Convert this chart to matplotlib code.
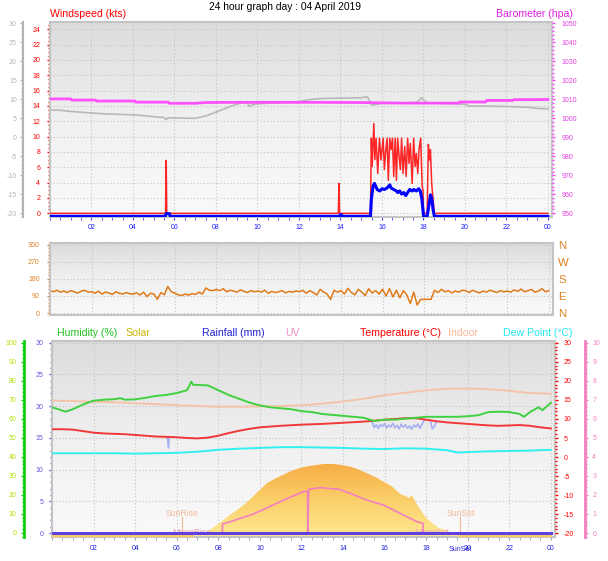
import numpy as np
import matplotlib.pyplot as plt
from matplotlib.colors import LinearSegmentedColormap
from matplotlib.patches import Polygon
from matplotlib.ticker import MultipleLocator, FixedLocator
from matplotlib.transforms import offset_copy, blended_transform_factory

plt.rcParams['font.family'] = ['Liberation Sans', 'DejaVu Sans']
plt.rcParams['axes.unicode_minus'] = False

W, H = 608, 561
title = '24 hour graph day : 04 April 2019'

hour_ticks = list(range(2, 25, 2))
hour_labels = ['%02d' % (h % 24) for h in hour_ticks]

# ---- top panel: wind (kts), barometer (hpa), grey temperature-like trace ----
gust_t = [0, 5.57, 5.6, 5.63, 13.90, 13.93, 13.96, 15.45, 15.49, 15.53, 15.61, 15.66,
          15.72, 15.80, 15.88, 15.96, 16.06, 16.12, 16.18, 16.25, 16.31, 16.38, 16.44,
          16.51, 16.57, 16.64, 16.70, 16.76, 16.83, 16.89, 16.95, 17.02, 17.10, 17.17,
          17.24, 17.31, 17.37, 17.46, 17.53, 17.60, 17.66, 17.73, 17.79, 17.87, 17.94,
          17.98, 18.01, 18.18, 18.24, 18.29, 18.34, 18.40, 18.47, 18.53, 24]
gust_v = [0, 0, 6.9, 0, 0, 3.9, 0, 0, 9.8, 6.1, 11.7, 7.0,
          9.8, 5.2, 9.8, 6.95, 9.8, 5.7, 8.0, 9.8, 4.3, 9.8, 8.3,
          9.8, 4.8, 9.8, 4.3, 9.8, 7.4, 5.7, 9.8, 5.2, 8.7, 4.8,
          9.8, 6.5, 9.1, 3.9, 9.8, 6.1, 7.8, 5.2, 8.3, 9.8, 3.5,
          3.05, 0, 0, 9.0, 6.95, 8.3, 3.9, 1.74, 0, 0]

wavg_t = [0, 5.55, 5.6, 5.75, 5.8, 13.95, 14.0, 14.05, 14.1, 15.45, 15.49, 15.57,
          15.64, 15.77, 15.90, 16.01, 16.12, 16.25, 16.38, 16.44, 16.57, 16.70, 16.76,
          16.86, 16.95, 17.05, 17.15, 17.24, 17.34, 17.46, 17.53, 17.66, 17.77, 17.85,
          17.92, 17.98, 18.01, 18.18, 18.26, 18.34, 18.40, 18.47, 18.53, 24]
wavg_v = [0, 0, 0.35, 0.35, 0, 0, 0.2, 0.2, 0, 0, 2.2, 3.9,
          4.3, 3.5, 3.3, 3.6, 3.5, 3.7, 4.1, 3.7, 3.5, 3.3, 3.1,
          3.3, 2.9, 3.1, 2.7, 3.1, 3.5, 3.3, 3.5, 3.3, 3.6, 3.3,
          2.4, 0.8, 0, 0, 1.3, 2.8, 2.4, 0.8, 0, 0]

baro_t = [0, 1.0, 1.05, 2.2, 2.25, 4.1, 4.15, 5.7, 5.75, 7.0, 7.5, 9, 11, 13, 15,
          17, 19.7, 19.75, 21.0, 21.05, 22.3, 22.35, 24]
baro_v = [1010.2, 1010.2, 1009.6, 1009.6, 1009.1, 1009.1, 1008.5, 1008.5, 1007.9,
          1007.9, 1008.3, 1008.4, 1008.4, 1008.4, 1008.3, 1008.0, 1008.0, 1008.6,
          1008.6, 1009.4, 1009.4, 1009.8, 1009.9]

grey_t = [0, 0.5, 1, 1.5, 2, 2.5, 3, 3.5, 4, 4.5, 5, 5.5, 5.6, 5.7, 6, 6.5, 7, 7.5,
          8, 8.5, 9, 9.5, 9.6, 9.8, 10, 11, 12, 12.5, 13, 14, 15, 15.3, 15.5, 16, 17,
          17.7, 17.9, 18.2, 18.6, 19, 20, 20.2, 21, 22, 23, 23.5, 24]
grey_v = [7.2, 7.1, 6.8, 6.6, 6.4, 6.2, 6.1, 6.0, 5.9, 5.7, 5.4, 5.2, 4.7, 5.1, 5.1,
          5.0, 5.0, 5.6, 6.6, 7.7, 8.7, 9.4, 8.1, 8.6, 8.8, 9.1, 9.4, 9.9, 10.2, 10.3,
          10.4, 10.7, 8.5, 8.9, 9.0, 9.2, 10.4, 9.0, 9.0, 8.9, 8.7, 8.2, 8.2, 8.1, 7.9,
          7.6, 7.5]

# ---- middle panel: wind direction (deg), one value per 10 minutes ----
dir_v = [118, 112, 120, 110, 116, 108, 118, 112, 105, 115, 120, 110,
         112, 104, 115, 100, 110, 106, 98, 112, 104, 100, 108, 102,
         100, 106, 95, 110, 86, 104, 100, 72, 108, 96, 140, 112,
         105, 96, 92, 100, 94, 102, 98, 110, 100, 132, 120, 118,
         124, 118, 128, 112, 120, 116, 110, 122, 114, 108, 118, 112,
         116, 110, 120, 104, 114, 108, 112, 118, 106, 114, 110, 116,
         112, 120, 104, 118, 108, 95, 125, 110, 100, 72, 120, 110,
         118, 100, 130, 108, 96, 125, 110, 92, 128, 105, 118, 100,
         125, 90, 128, 85, 120, 80, 118, 95, 50, 110, 42, 72,
         72, 72, 72, 120, 108, 125, 112, 118, 106, 116, 110, 120,
         118, 108, 120, 112, 106, 116, 110, 120, 114, 108, 118, 112,
         116, 110, 122, 114, 126, 112, 118, 124, 110, 116, 128, 112,
         118]
dir_t = np.arange(len(dir_v)) / 6.0

# ---- bottom panel ----
hum_t = [0, 0.3, 0.65, 1.0, 1.5, 2.0, 2.5, 3.0, 3.3, 3.5, 4.0, 4.5, 5.0, 5.5, 6.0, 6.5,
         6.7, 6.8, 7.0, 7.5, 8.0, 8.5, 9, 9.5, 10, 10.5, 11, 11.5, 12, 12.5, 13, 13.5,
         14, 14.5, 15, 15.5, 16, 16.5, 17, 17.5, 18, 18.5, 19, 19.5, 20, 20.5, 21,
         21.5, 22, 22.5, 22.7, 23.0, 23.4, 23.6, 24]
hum_v = [66, 65, 63.7, 65, 67.5, 69.5, 70, 70.3, 70.8, 70, 70.2, 71, 72, 72.5, 73.5, 75,
         79.5, 77.8, 77.8, 77.5, 75, 72.5, 70.5, 68.5, 67, 66, 65.5, 65, 64, 63.5, 62.5,
         62, 61.5, 61, 60.5, 58.8, 59.5, 59.5, 60, 60.5, 61, 61, 61, 61, 61.3, 61.8,
         63.5, 63.7, 63.5, 62.5, 61, 63.5, 66, 64.5, 68.4]

temp_t = [0, 0.5, 1, 1.5, 2, 2.5, 3, 3.5, 4, 4.5, 5, 5.5, 6, 6.5, 7, 7.5, 8, 8.5, 9,
          9.5, 10, 11, 12, 13, 14, 15, 16, 17, 17.5, 18, 18.5, 19, 20, 21, 21.5, 22,
          22.5, 23, 23.5, 24]
temp_v = [7.3, 7.3, 7.2, 6.8, 6.4, 6.2, 6.1, 6.0, 5.8, 5.6, 5.4, 5.3, 5.2, 5.0, 4.9,
          5.1, 5.6, 6.3, 6.9, 7.4, 7.8, 8.2, 8.5, 8.7, 9.0, 9.3, 9.8, 10.2, 10.2, 9.8,
          9.4, 9.1, 8.7, 8.3, 8.2, 8.3, 8.4, 8.2, 7.8, 7.5]

indoor_t = list(range(25))
indoor_v = [14.8, 14.7, 14.5, 14.4, 14.1, 13.9, 13.6, 13.4, 13.2, 13.2, 13.3, 13.4,
            13.6, 14.0, 14.6, 15.3, 16.2, 16.9, 17.5, 17.9, 18.0, 17.8, 17.4, 16.8, 16.6]

dew_t = list(range(20)) + [19.5, 20, 21, 22, 23, 24]
dew_v = [1.0, 1.0, 1.0, 1.0, 0.9, 1.0, 1.1, 1.4, 1.9, 2.2, 2.4, 2.6, 2.6, 2.5, 2.4,
         2.2, 2.1, 2.3, 2.2, 1.8, 1.2, 1.3, 1.5, 1.6, 1.7, 1.9]

# wind chill only where it parts from the air temperature (nan = hidden behind it)
chill_t = [5.55, 5.6, 5.65, np.nan, 15.4, 15.5, 15.6, 15.7, 15.8, 15.9, 16.0, 16.1,
           16.2, 16.3, 16.4, 16.5, 16.6, 16.7, 16.8, 16.9, 17.0, 17.1, 17.2, 17.3,
           17.4, 17.5, 17.6, 17.7, 17.8, 17.9, 18.0, 18.2, 18.3, 18.4, 18.5]
chill_v = [5.2, 2.4, 5.2, np.nan, 9.2, 7.8, 8.5, 7.5, 8.6, 8.0, 8.8, 7.6,
           8.4, 7.9, 8.9, 7.7, 8.3, 7.4, 8.6, 7.8, 8.5, 7.6, 8.2, 7.3,
           8.4, 7.9, 8.7, 7.5, 8.6, 9.6, 9.8, 9.6, 7.4, 8.0, 9.4]

solar_t = [0, 6.8, 7.2, 7.5, 7.95, 8.3, 8.7, 9.1, 9.5, 9.9, 10.35, 10.7, 11.1, 11.5,
           11.95, 12.35, 12.75, 13.1, 13.5, 13.9, 14.35, 14.75, 15.15, 15.55, 15.95,
           16.35, 16.75, 17.0, 17.2, 17.3, 17.55, 17.8, 18.0, 18.3, 18.6, 18.9, 19.15,
           19.4, 19.6, 24]
solar_v = [0, 0, 10, 26, 58, 89, 121, 153, 189, 232, 279, 300, 321, 342,
           358, 368, 374, 379, 379, 374, 365, 350, 330, 311, 286,
           261, 221, 210, 200, 216, 168, 126, 95, 68, 42, 32, 21,
           10, 0, 0]

uv_t = [0, 8.2, 8.2, 8.6, 9.0, 9.55, 10.0, 10.6, 11.15, 11.6, 12.1, 12.3, 12.3, 12.35,
        12.9, 13.8, 14.35, 15.15, 15.95, 16.75, 17.55, 17.85, 17.85, 24]
uv_v = [0, 0, 0.47, 0.6, 0.75, 0.94, 1.15, 1.45, 1.73, 1.95, 2.17, 2.2, 0, 2.3,
        2.38, 2.3, 2.08, 1.73, 1.47, 1.03, 0.6, 0.5, 0, 0]

rain_t = [0, 24]
rain_v = [0, 0]

sunrise_h, sunset_h = 6.25, 19.65
moonrise_h, moonset_h = 6.75, 18.27

XMAX = 24.2


def px_axes(x0, y0, x1, y1):
    return fig.add_axes([x0 / W, 1 - y1 / H, (x1 - x0) / W, (y1 - y0) / H])


def backdrop(ax):
    grad = np.linspace(0, 1, 256).reshape(-1, 1)
    cmap = LinearSegmentedColormap.from_list('bg', ['#fafafa', '#f0f0f0', '#dcdcdc'])
    ax.imshow(grad, extent=[0, 1, 0, 1], transform=ax.transAxes, origin='lower',
              aspect='auto', cmap=cmap, zorder=0)
    for s in ax.spines.values():
        s.set_color('#c4c4c4')
        s.set_linewidth(1.5)
    ax.grid(True, which='major', color='#c4c4c4', linestyle=(0, (1, 2)), linewidth=0.8)
    ax.set_axisbelow(True)


def y_ticks(ax, side, color, major, minor, pad, labelcolor=None):
    ax.yaxis.set_major_locator(major if not isinstance(major, (int, float)) else MultipleLocator(major))
    ax.yaxis.set_minor_locator(MultipleLocator(minor))
    ax.tick_params(axis='y', which='both', left=side == 'left', right=side == 'right',
                   labelleft=side == 'left', labelright=side == 'right', colors=color,
                   labelcolor=labelcolor or color, labelsize=5, direction='out', pad=pad)
    ax.tick_params(axis='y', which='major', length=2.4, width=1)
    ax.tick_params(axis='y', which='minor', length=1.6, width=1)


def x_ticks(ax, color, labelcolor, labels=True):
    ax.set_xlim(0, XMAX)
    ax.set_xticks(hour_ticks, hour_labels if labels else [])
    ax.xaxis.set_minor_locator(MultipleLocator(0.5))
    ax.tick_params(axis='x', which='both', colors=color, labelcolor=labelcolor,
                   labelsize=5, direction='out', pad=3.2, length=2.2 if labels else 0)


def hide_spines(ax, keep=None):
    for k, s in ax.spines.items():
        s.set_visible(k == keep)


fig = plt.figure(figsize=(W / 100, H / 100), dpi=100)
fig.patch.set_facecolor('white')

# ================= top panel =================
ax_w = px_axes(50, 22, 552, 217)
backdrop(ax_w)
x_ticks(ax_w, '#4040ff', '#2020ff')
ax_w.set_ylim(-0.48, 24.95)
y_ticks(ax_w, 'left', 'red', 2, 0.5, 4.7)

ax_g = ax_w.twinx()
hide_spines(ax_g, 'left')
ax_g.spines['left'].set_position(('axes', -27 / 502))
ax_g.spines['left'].set_color('#b4b4b4')
ax_g.spines['left'].set_linewidth(1.5)
ax_g.yaxis.tick_left()
ax_g.set_ylim(-21, 30.35)
y_ticks(ax_g, 'left', '#b4b4b4', 5, 1, 2.0)
ax_g.plot(grey_t, grey_v, color='#b8b8b8', lw=1.2)

ax_p = ax_w.twinx()
hide_spines(ax_p)
ax_p.set_ylim(948.05, 1050.7)
y_ticks(ax_p, 'right', '#ff40ff', 10, 2, 4.3, labelcolor='#e040e0')
ax_p.plot(baro_t, baro_v, color='#ff50ff', lw=2)

ax_w2 = ax_w.twinx()
hide_spines(ax_w2)
ax_w2.set_ylim(ax_w.get_ylim())
ax_w2.set_yticks([])
ax_w2.plot(gust_t, gust_v, color='#ff1010', lw=1.1, alpha=0.9)
ax_w2.plot(wavg_t, wavg_v, color='#0000ff', lw=2.2,
           transform=offset_copy(ax_w2.transData, fig=fig, x=0, y=-3, units='dots'))

fig.text(50 / W, 1 - 14 / H, 'Windspeed (kts)', color='red', fontsize=7.6, va='center', ha='left')
fig.text(573 / W, 1 - 14 / H, 'Barometer (hpa)', color='#e020e0', fontsize=7.6, va='center', ha='right')
fig.text(285 / W, 1 - 6.5 / H, title, color='black', fontsize=7.4, va='center', ha='center')

# ================= middle panel =================
ax_d = px_axes(50, 243, 553, 315)
backdrop(ax_d)
x_ticks(ax_d, '#c4c4c4', '#2020ff', labels=False)
ax_d.set_ylim(-10.5, 369)
y_ticks(ax_d, 'left', '#e08020', FixedLocator([0, 90, 180, 270, 360]), 18, 5.0)
ax_d.plot(dir_t, dir_v, color='#e07a18', lw=1.1)

ax_d2 = ax_d.twinx()
hide_spines(ax_d2)
ax_d2.set_ylim(ax_d.get_ylim())
ax_d2.set_yticks([0, 90, 180, 270, 360], ['N', 'E', 'S', 'W', 'N'])
ax_d2.tick_params(axis='y', length=0, pad=3.8, labelsize=8.2, colors='#e08020')

# ================= bottom panel =================
ax_b = px_axes(52, 341, 555, 537)
backdrop(ax_b)
x_ticks(ax_b, '#a0a0b0', '#2020e0')
ax_b.set_ylim(-0.63, 30.27)
y_ticks(ax_b, 'left', '#6a50e0', 5, 1, 3.6)
btrans = blended_transform_factory(ax_b.transData, ax_b.transAxes)
ax_b.text(sunset_h, -0.045, 'SunSet', transform=btrans, ha='center', va='top',
          color='#2020e0', fontsize=5)

# solar (no visible scale)
ax_s = ax_b.twinx()
hide_spines(ax_s)
ax_s.set_yticks([])
ax_s.set_ylim(-5.3, 1026)
strans = blended_transform_factory(ax_s.transData, ax_s.transAxes)
ax_s.text(moonrise_h, 0.022, 'MoonRise', transform=strans, ha='center', va='center',
          color='#e8a0a8', fontsize=6.2)
ax_s.text(moonset_h, 0.022, 'MoonSet', transform=strans, ha='center', va='center',
          color='#e8a8b0', fontsize=6.2)
verts = list(zip(solar_t, solar_v)) + [(solar_t[-1], 0), (solar_t[0], 0)]
patch = Polygon(verts, closed=True, fc='none', ec='none')
ax_s.add_patch(patch)
sol_cmap = LinearSegmentedColormap.from_list('sol', ['#fde890', '#fbcf6a', '#f6ac44'])
grad = np.linspace(0, 1, 256).reshape(-1, 1)
im = ax_s.imshow(grad, extent=[0, XMAX, 0, max(solar_v)], origin='lower', aspect='auto',
                 cmap=sol_cmap, zorder=2)
im.set_clip_path(patch)
sv = np.array(solar_v, dtype=float)
ax_s.plot(solar_t, np.where(sv == 0, sv, np.nan), color='#f8d060', lw=1.5, zorder=3)
ax_s.set_xlim(0, XMAX)
ax_s.set_ylim(-5.3, 1026)
for h, lab in [(sunrise_h, 'SunRise'), (sunset_h, 'SunSet')]:
    ax_s.axvline(h, ymin=0.02, ymax=0.102, color='#f4b898', lw=0.8)
    ax_s.text(h, 0.1224, lab, transform=strans, ha='center', va='center',
              color='#f4b898', fontsize=6.2)

# UV
ax_uv = ax_b.twinx()
hide_spines(ax_uv, 'right')
ax_uv.spines['right'].set_position(('axes', 533 / 503))
ax_uv.spines['right'].set_color('#f080c0')
ax_uv.spines['right'].set_linewidth(2)
ax_uv.set_ylim(-0.21, 10.09)
y_ticks(ax_uv, 'right', '#f080c0', 1, 0.2, 2.9)
ax_uv.plot(uv_t, uv_v, color='#f080c0', lw=1.2)

# rainfall, same scale as the left rain axis
ax_r = ax_b.twinx()
hide_spines(ax_r)
ax_r.set_ylim(ax_b.get_ylim())
ax_r.set_yticks([])
ax_r.plot(rain_t, rain_v, color='#6040e0', lw=2.2)

# temperatures
ax_t = ax_b.twinx()
hide_spines(ax_t)
ax_t.set_ylim(-20.97, 30.45)
y_ticks(ax_t, 'right', 'red', 5, 1, 3.6)
ax_t.plot(chill_t, chill_v, color='#a8b0f4', lw=1.2)
ax_t.plot(dew_t, dew_v, color='#30f0f0', lw=1.4)
ax_t.plot(indoor_t, indoor_v, color='#f4c4a8', lw=1.4)
ax_t.plot(temp_t, temp_v, color='#f03838', lw=1.4)

# humidity
ax_h = ax_b.twinx()
hide_spines(ax_h, 'left')
ax_h.spines['left'].set_position(('axes', -28 / 503))
ax_h.spines['left'].set_color('#10d010')
ax_h.spines['left'].set_linewidth(2)
ax_h.yaxis.tick_left()
ax_h.set_ylim(-2.26, 100.9)
y_ticks(ax_h, 'left', '#10d010', 10, 2, 2.9, labelcolor='#b0e000')
ax_h.plot(hum_t, hum_v, color='#40d040', lw=1.4)

for ax in (ax_g, ax_p, ax_w2, ax_d2, ax_s, ax_uv, ax_r, ax_t, ax_h):
    ax.set_xlim(0, XMAX)

ly = 1 - 333 / H
fig.text(57 / W, ly, 'Humidity (%)', color='#20c020', fontsize=7.6, va='center')
fig.text(125 / W, ly, 'Solar', color='#c8b400', fontsize=7.6, va='center')
fig.text(202 / W, ly, 'Rainfall (mm)', color='#2020d0', fontsize=7.6, va='center')
fig.text(285 / W, ly, 'UV', color='#f090c8', fontsize=7.6, va='center')
fig.text(360 / W, ly, 'Temperature (°C)', color='red', fontsize=7.6, va='center')
fig.text(448 / W, ly, 'Indoor', color='#f4b898', fontsize=7.6, va='center')
fig.text(503 / W, ly, 'Dew Point (°C)', color='#20e8f0', fontsize=7.6, va='center')

fig.savefig('out.png', dpi=100)
